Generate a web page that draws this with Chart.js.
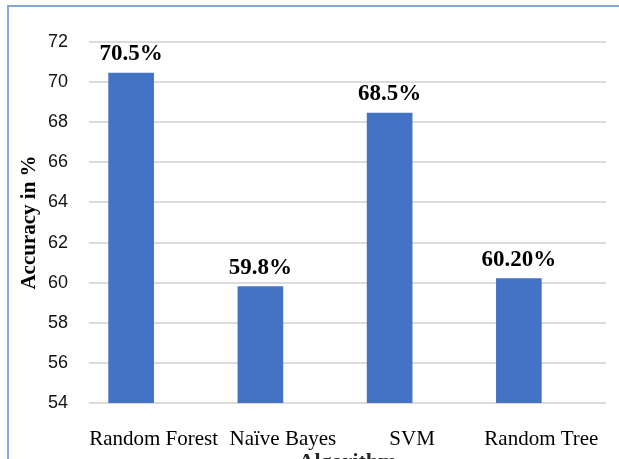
<!DOCTYPE html>
<html>
<head>
<meta charset="utf-8">
<script src="https://cdn.jsdelivr.net/npm/chart.js@4"></script>
<style>
  html, body { margin: 0; padding: 0; overflow: hidden; background: #fff; }
  #wrap { position: relative; width: 619px; height: 459px; overflow: hidden; }
  #frame { position: absolute; left: 7px; top: 5px; width: 700px; height: 500px;
           border-left: 2px solid #86a6e0; border-top: 2px solid #86a6e0; }
  #box { position: absolute; left: 0; top: 0; width: 619px; height: 476px; }
</style>
</head>
<body>
<div id="wrap">
  <div id="frame"></div>
  <div id="box"><canvas id="myAccuracyChart"></canvas></div>
</div>
<script>
// values
var algorithms = ["Random Forest", "Naïve Bayes", "SVM", "Random Tree"];
var accuracy = [70.45, 59.8, 68.45, 60.2];
var accuracyLabels = ["70.5%", "59.8%", "68.5%", "60.20%"];
var yTicks = [54, 56, 58, 60, 62, 64, 66, 68, 70, 72];

// empty second series so the bars sit left of the category centre, like the original
var spacer = [null, null, null, null];

var valueLabels = {
  id: 'valueLabels',
  afterDatasetsDraw: function(chart) {
    var ctx = chart.ctx;
    var meta = chart.getDatasetMeta(0);
    ctx.save();
    ctx.font = 'bold 23px "Liberation Serif", "Times New Roman", serif';
    ctx.fillStyle = '#000';
    ctx.textAlign = 'center';
    ctx.textBaseline = 'alphabetic';
    meta.data.forEach(function(bar, i) {
      ctx.fillText(accuracyLabels[i], bar.x, bar.y - 13);
    });
    ctx.restore();
  }
};

var canvasAccuracy = document.getElementById("myAccuracyChart");
var myAccuracyChart = new Chart(canvasAccuracy, {
  type: 'bar',
  data: {
    labels: algorithms,
    datasets: [
      {
        data: accuracy,
        backgroundColor: "#4472c4",
        barThickness: 45
      },
      {
        data: spacer,
        backgroundColor: "rgba(0,0,0,0)",
        barThickness: 45
      }
    ]
  },
  options: {
    responsive: true,
    maintainAspectRatio: false,
    animation: false,
    layout: { padding: { left: 17, right: 13, top: 42, bottom: 0 } },
    plugins: {
      legend: { display: false },
      tooltip: { enabled: false }
    },
    scales: {
      x: {
        grid: { display: false, drawTicks: false },
        border: { display: false },
        ticks: {
          color: '#000',
          padding: 24,
          maxRotation: 0,
          autoSkip: false,
          font: { family: '"Liberation Serif", "Times New Roman", serif', size: 21 }
        },
        title: {
          display: true,
          text: 'Algorithm',
          color: '#262626',
          padding: 0,
          font: { family: '"Liberation Serif", "Times New Roman", serif', size: 22, weight: 'bold' }
        },
        afterFit: function(scale) {
          scale.height = 73;
          scale.paddingLeft = 0;
          scale.paddingRight = 0;
        }
      },
      y: {
        min: 54,
        max: 72,
        afterBuildTicks: function(scale) {
          scale.ticks = yTicks.map(function(v) { return { value: v }; });
        },
        grid: { color: '#dcdcdc', lineWidth: 2, drawTicks: false },
        border: { display: false },
        ticks: {
          color: '#111',
          padding: 21,
          font: { family: '"Liberation Sans", Arial, sans-serif', size: 18 }
        },
        title: {
          display: true,
          text: 'Accuracy in %',
          color: '#000',
          padding: 0,
          font: { family: '"Liberation Serif", "Times New Roman", serif', size: 21, weight: 'bold' }
        },
        afterFit: function(scale) { scale.width = 72; }
      }
    }
  },
  plugins: [valueLabels]
});
</script>
</body>
</html>
